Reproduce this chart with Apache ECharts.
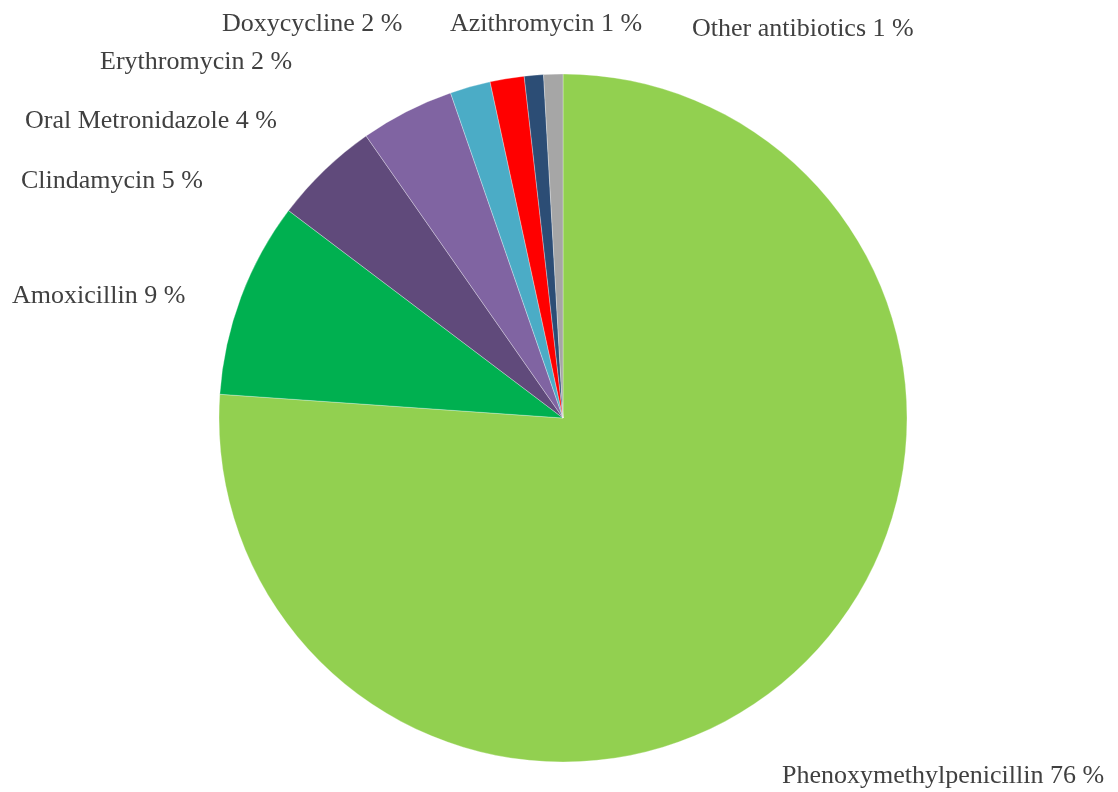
<!DOCTYPE html>
<html>
<head>
<meta charset="utf-8">
<title>Antibiotics</title>
<script src="https://cdn.jsdelivr.net/npm/echarts@6/dist/echarts.min.js"></script>
<style>
  html, body { margin: 0; padding: 0; background: #fff; }
  #chart { width: 1118px; height: 792px; }
</style>
</head>
<body>
<div id="chart"></div>
<script>
// slices, clockwise from 12 o'clock
const names = ['Phenoxymethylpenicillin', 'Amoxicillin', 'Clindamycin', 'Oral Metronidazole',
  'Erythromycin', 'Doxycycline', 'Azithromycin', 'Other antibiotics']
const shares = [76.1, 9.2, 5.0, 4.4, 1.9, 1.6, 0.9, 0.9]
const colors = ['#92D050', '#00B050', '#604A7B', '#8064A2', '#4BACC6', '#FF0000', '#2C4D75', '#A6A6A6']

// where each label sits (left edge, vertical middle), as in the original
const labelSpots = [[782, 776], [12, 296], [21, 181], [25, 121], [100, 62], [222, 24], [450, 24], [692, 29]]

const chart = echarts.init(document.getElementById('chart'))

const option = {
  animation: false,
  color: colors,
  series: [{
    type: 'pie',
    center: [563, 418],
    radius: 344,
    startAngle: 90,
    clockwise: true,
    itemStyle: { borderColor: 'rgba(255,255,255,0.6)', borderWidth: 0.5 },
    label: {
      show: true,
      position: 'outside',
      overflow: 'none',
      width: 400,
      fontFamily: '"Liberation Serif", "Times New Roman", serif',
      fontSize: 26,
      color: '#404040',
      formatter: function (p) {
        return p.name + ' ' + Math.round(p.percent) + ' %'
      }
    },
    labelLine: { show: false },
    labelLayout: function (params) {
      const s = labelSpots[params.dataIndex]
      return { x: s[0], y: s[1], align: 'left', verticalAlign: 'middle' }
    },
    emphasis: { disabled: true },
    data: names.map((n, i) => ({ name: n, value: shares[i] }))
  }]
}

chart.setOption(option)
</script>
</body>
</html>
